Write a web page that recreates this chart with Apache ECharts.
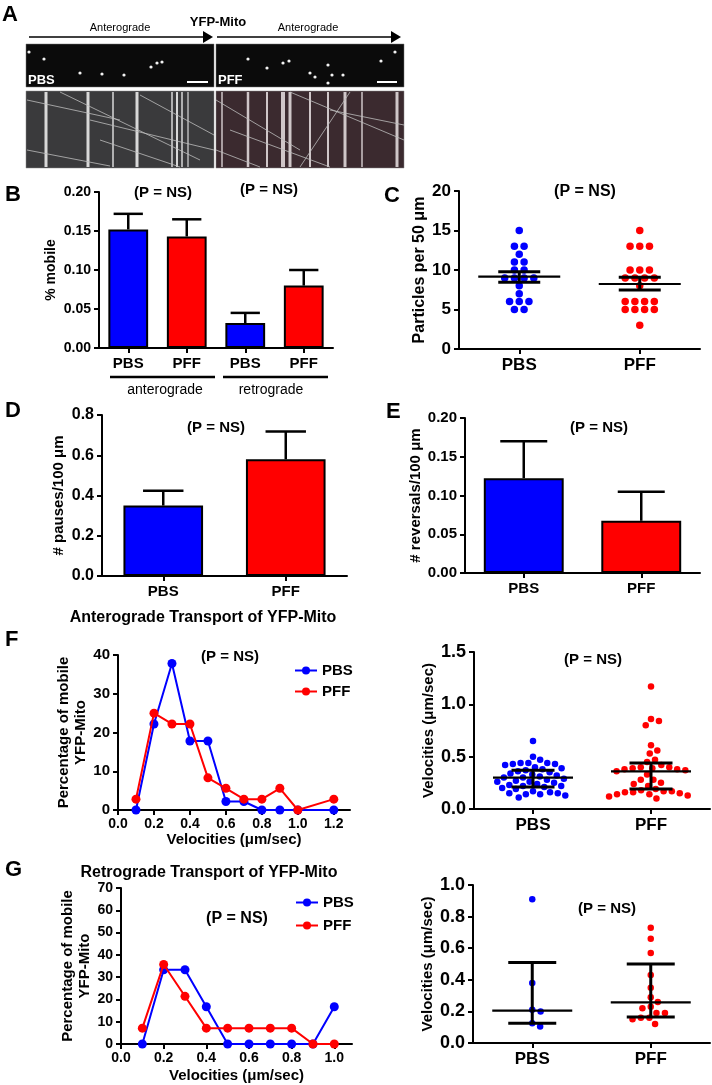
<!DOCTYPE html>
<html><head><meta charset="utf-8">
<script src="https://cdn.jsdelivr.net/npm/echarts@6/dist/echarts.min.js"></script>
<style>html,body{margin:0;padding:0;background:#fff}#c{width:712px;height:1085px}</style>
</head><body><div id="c"></div>
<script>
// ---------------- DATA ----------------
const mobileCats = ['PBS', 'PFF', 'PBS', 'PFF'];
const mobileMean = [0.152, 0.143, 0.032, 0.080];
const mobileUpper = [0.172, 0.165, 0.045, 0.100];

const groupCats = ['PBS', 'PFF'];
const particlesPBS = [15, 13, 13, 12, 11, 11, 10, 10, 9, 9, 9, 9, 8, 7, 6, 6, 6, 5, 5];
const particlesPFF = [15, 13, 13, 13, 10, 10, 10, 9, 9, 9, 9, 8, 6, 6, 6, 6, 5, 5, 5, 5, 3];
const particlesMean = [9.16, 8.23];
const particlesLow = [8.44, 7.47];
const particlesHigh = [9.78, 9.08];

const pausesMean = [0.35, 0.58];
const pausesUpper = [0.423, 0.718];
const reversalsMean = [0.1224, 0.0674];
const reversalsUpper = [0.170, 0.105];

const antVel = [0.1, 0.2, 0.3, 0.4, 0.5, 0.6, 0.7, 0.8, 0.9, 1.0, 1.2];
const antPctPBS = [0, 22.2, 37.8, 17.8, 17.8, 2.2, 2.2, 0, 0, 0, 0];
const antPctPFF = [2.8, 25.0, 22.2, 22.2, 8.3, 5.6, 2.8, 2.8, 5.6, 0, 2.8];

const antSpeedPBS = [0.65, 0.50, 0.47, 0.44, 0.44, 0.44, 0.43, 0.43, 0.42, 0.40, 0.39, 0.38, 0.37, 0.36, 0.35, 0.34, 0.33, 0.32, 0.31, 0.30, 0.30, 0.29, 0.28, 0.27, 0.26, 0.26, 0.25, 0.24, 0.23, 0.22, 0.22, 0.21, 0.20, 0.19, 0.17, 0.16, 0.15, 0.15, 0.14, 0.14, 0.13, 0.11];
const antSpeedPFF = [1.17, 0.86, 0.84, 0.80, 0.61, 0.56, 0.53, 0.47, 0.45, 0.42, 0.40, 0.40, 0.39, 0.39, 0.38, 0.38, 0.37, 0.36, 0.33, 0.28, 0.28, 0.25, 0.24, 0.22, 0.19, 0.18, 0.17, 0.17, 0.16, 0.16, 0.15, 0.14, 0.14, 0.13, 0.12, 0.10];
const antMedian = [0.30, 0.36];
const antQ1 = [0.21, 0.19];
const antQ3 = [0.37, 0.44];

const retVel = [0.1, 0.2, 0.3, 0.4, 0.5, 0.6, 0.7, 0.8, 0.9, 1.0];
const retPctPBS = [0, 33.3, 33.3, 16.7, 0, 0, 0, 0, 0, 16.7];
const retPctPFF = [7.1, 35.7, 21.4, 7.1, 7.1, 7.1, 7.1, 7.1, 0, 0];

const retSpeedPBS = [0.91, 0.38, 0.21, 0.20, 0.125, 0.105];
const retSpeedPFF = [0.73, 0.66, 0.57, 0.43, 0.35, 0.29, 0.26, 0.23, 0.22, 0.19, 0.19, 0.16, 0.16, 0.15, 0.12];
const retMedian = [0.205, 0.257];
const retQ1 = [0.125, 0.165];
const retQ3 = [0.51, 0.50];

// ---------------- STYLE / LAYOUT ----------------
const FF = "'Liberation Sans', Arial, Helvetica, sans-serif";
const BLUE = '#0000ff', RED = '#ff0000';
const grids = [
  {left: 99, top: 192, width: 234, height: 156},   // B
  {left: 459, top: 191, width: 241, height: 158},  // C
  {left: 102, top: 415, width: 245, height: 161},  // D
  {left: 465, top: 418, width: 235, height: 155},  // E
  {left: 118, top: 655, width: 232, height: 155},  // F left
  {left: 474, top: 652, width: 236, height: 157},  // F right
  {left: 121, top: 888, width: 231, height: 156},  // G left
  {left: 473, top: 885, width: 237, height: 158}   // G right
];

const axLine = {show: true, lineStyle: {color: '#000', width: 2}};
const axTick = {show: true, length: 5, lineStyle: {color: '#000', width: 2}};

function yAx(g, min, max, interval, fs, dec, name, gap, nfs) {
  return {
    type: 'value', gridIndex: g, min: min, max: max, interval: interval,
    axisLine: axLine, axisTick: axTick, splitLine: {show: false},
    axisLabel: {color: '#000', fontWeight: 'bold', fontSize: fs, fontFamily: FF, margin: 8,
      formatter: v => v.toFixed(dec)},
    name: name, nameLocation: 'middle', nameGap: gap,
    nameTextStyle: {color: '#000', fontWeight: 'bold', fontSize: nfs, fontFamily: FF, lineHeight: nfs + 2}
  };
}
function catAx(g, cats, fs) {
  return {
    type: 'category', gridIndex: g, data: cats,
    axisLine: axLine, axisTick: Object.assign({alignWithLabel: true, interval: 0}, axTick),
    axisLabel: {color: '#000', fontWeight: 'bold', fontSize: fs, fontFamily: FF, margin: 8, interval: 0}
  };
}
function hiddenAx(g) { return {type: 'value', gridIndex: g, min: 0, max: 2, show: false}; }
function valXAx(g, max, name, gap) {
  return {
    type: 'value', gridIndex: g, min: 0, max: max, interval: 0.2,
    axisLine: axLine, axisTick: axTick, splitLine: {show: false},
    axisLabel: {color: '#000', fontWeight: 'bold', fontSize: 14, fontFamily: FF, margin: 7,
      showMaxLabel: false, formatter: v => v.toFixed(1)},
    name: name, nameLocation: 'middle', nameGap: gap,
    nameTextStyle: {color: '#000', fontWeight: 'bold', fontSize: 15, fontFamily: FF}
  };
}

// beeswarm layout (pixel space) computed from the values
function swarm(values, pxPerUnit, d) {
  const order = values.map((v, i) => i).sort((a, b) => values[b] - values[a]);
  const placed = [], out = new Array(values.length);
  order.forEach(i => {
    const y = values[i] * pxPerUnit;
    const cands = [0];
    placed.forEach(p => {
      const dy = Math.abs(p.y - y);
      if (dy < d) { const dx = Math.sqrt(d * d - dy * dy); cands.push(p.x + dx, p.x - dx); }
    });
    cands.sort((a, b) => Math.abs(a) - Math.abs(b) || b - a);
    for (const c of cands) {
      if (placed.every(p => (p.x - c) * (p.x - c) + (p.y - y) * (p.y - y) >= d * d - 0.01)) {
        out[i] = c; placed.push({x: c, y: y}); break;
      }
    }
  });
  return out;
}
function swarmData(values, center, grid, yMax, d) {
  const pxPerUnit = grid.height / yMax;
  const unitPx = grid.width / 2;
  const off = swarm(values, pxPerUnit, d);
  return values.map((v, i) => [center + off[i] / unitPx, v]);
}
// row layout: equal values spread symmetrically in one row
function rowData(values, center, grid, s) {
  const unitPx = grid.width / 2;
  const counts = {}, seen = {};
  values.forEach(v => counts[v] = (counts[v] || 0) + 1);
  return values.map(v => {
    const k = seen[v] = (seen[v] || 0) + 1;
    const off = (k - 1 - (counts[v] - 1) / 2) * s;
    return [center + off / unitPx, v];
  });
}

function errSeries(xi, yi, means, uppers, capFrac) {
  return {
    type: 'custom', xAxisIndex: xi, yAxisIndex: yi, z: 5,
    data: means.map((m, i) => [i, m, uppers[i]]),
    renderItem: function (params, api) {
      const p0 = api.coord([api.value(0), api.value(1)]);
      const p1 = api.coord([api.value(0), api.value(2)]);
      const w = api.size([1, 0])[0] * capFrac;
      return {type: 'group', children: [
        {type: 'line', shape: {x1: p0[0], y1: p0[1], x2: p1[0], y2: p1[1]}, style: {stroke: '#000', lineWidth: 2.5}},
        {type: 'line', shape: {x1: p1[0] - w / 2, y1: p1[1], x2: p1[0] + w / 2, y2: p1[1]}, style: {stroke: '#000', lineWidth: 2.5}}
      ]};
    }
  };
}
function sumSeries(xi, yi, mid, lo, hi, longW, capW) {
  return {
    type: 'custom', xAxisIndex: xi, yAxisIndex: yi, z: 6,
    data: mid.map((m, i) => [0.5 + i, m, lo[i], hi[i]]),
    renderItem: function (params, api) {
      const x = api.value(0);
      const pm = api.coord([x, api.value(1)]), pl = api.coord([x, api.value(2)]), ph = api.coord([x, api.value(3)]);
      const L = (x1, y1, x2, y2, w) => ({type: 'line', shape: {x1, y1, x2, y2}, style: {stroke: '#000', lineWidth: w}});
      return {type: 'group', children: [
        L(pm[0] - longW / 2, pm[1], pm[0] + longW / 2, pm[1], 2.2),
        L(pl[0], pl[1], ph[0], ph[1], 3),
        L(pl[0] - capW / 2, pl[1], pl[0] + capW / 2, pl[1], 3),
        L(ph[0] - capW / 2, ph[1], ph[0] + capW / 2, ph[1], 3)
      ]};
    }
  };
}
function barSeries(xi, yi, vals, colors, bw) {
  return {
    type: 'bar', xAxisIndex: xi, yAxisIndex: yi, barWidth: bw,
    data: vals.map((v, i) => ({value: v, itemStyle: {color: colors[i], borderColor: '#000', borderWidth: 2}}))
  };
}
function lineSeries(name, xi, yi, xs, ys, color, z) {
  return {
    name: name, type: 'line', xAxisIndex: xi, yAxisIndex: yi, z: z,
    data: xs.map((x, i) => [x, ys[i]]),
    symbol: 'circle', symbolSize: 9, lineStyle: {color: color, width: 2},
    itemStyle: {color: color}
  };
}
function scat(xi, yi, data, color, size) {
  return {type: 'scatter', xAxisIndex: xi, yAxisIndex: yi, data: data, symbolSize: size,
    itemStyle: {color: color, opacity: 1}, z: 3};
}

// ---------------- GRAPHICS (labels, panel A picture) ----------------
function T(x, y, text, size, opt) {
  opt = opt || {};
  return {type: 'text', x: x, y: y, z: 50, style: {text: text, fill: opt.fill || '#000',
    font: (opt.weight || 'bold') + ' ' + size + 'px ' + (opt.family || FF),
    textAlign: opt.align || 'center', textVerticalAlign: 'middle'}};
}
function Ln(x1, y1, x2, y2, w, c) {
  return {type: 'line', z: 40, shape: {x1, y1, x2, y2}, style: {stroke: c || '#000', lineWidth: w}};
}
const g = [];
// Panel A
g.push(T(2, 15, 'A', 22, {align: 'left', family: "'Liberation Sans Narrow', " + FF}));
g.push(T(218, 22, 'YFP-Mito', 13));
g.push(T(120, 28, 'Anterograde', 11, {weight: 'normal'}));
g.push(T(308, 28, 'Anterograde', 11, {weight: 'normal'}));
g.push(Ln(29, 37, 205, 37, 1.5));
g.push({type: 'polygon', z: 40, shape: {points: [[203, 31], [213, 37], [203, 43]]}, style: {fill: '#000'}});
g.push(Ln(217, 37, 392, 37, 1.5));
g.push({type: 'polygon', z: 40, shape: {points: [[391, 31], [401, 37], [391, 43]]}, style: {fill: '#000'}});
// microscopy images (illustrative)
g.push({type: 'rect', z: 30, shape: {x: 26, y: 44, width: 188, height: 43}, style: {fill: '#0b0b0b', stroke: '#777', lineWidth: 0.5}});
g.push({type: 'rect', z: 30, shape: {x: 216, y: 44, width: 188, height: 43}, style: {fill: '#0b0b0b', stroke: '#777', lineWidth: 0.5}});
g.push({type: 'rect', z: 30, shape: {x: 26, y: 91, width: 188, height: 77}, style: {fill: '#3a3a3c', stroke: '#888', lineWidth: 0.5}});
g.push({type: 'rect', z: 30, shape: {x: 216, y: 91, width: 188, height: 77}, style: {fill: '#3b2a2f', stroke: '#888', lineWidth: 0.5}});
[[44, 59], [80, 73], [102, 74], [124, 75], [151, 67], [157, 63], [162, 62], [29, 52],
 [248, 59], [267, 68], [283, 63], [289, 61], [328, 65], [310, 73], [315, 77], [332, 75], [343, 75], [381, 61], [395, 52], [328, 83]]
  .forEach(p => g.push({type: 'circle', z: 31, shape: {cx: p[0], cy: p[1], r: 1.6}, style: {fill: '#f2f2f2'}}));
g.push(Ln(187, 82, 208, 82, 2, '#fff'));
g.push(Ln(377, 82, 397, 82, 2, '#fff'));
g.push(T(28, 80, 'PBS', 13, {align: 'left', fill: '#fff'}));
g.push(T(218, 80, 'PFF', 13, {align: 'left', fill: '#fff'}));
[[46, 3], [88, 3], [113, 1.5], [137, 3], [172, 1.5], [177, 2], [182, 1.5], [188, 1.2]]
  .forEach(p => g.push(Ln(p[0], 92, p[0], 167, p[1], '#d8d8d8')));
[[222, 1.5], [248, 2.5], [267, 2], [283, 4], [290, 3], [310, 2], [328, 2], [345, 3], [362, 1.5], [397, 3]]
  .forEach(p => g.push(Ln(p[0], 92, p[0], 167, p[1], '#cfc6c8')));
[[27, 100, 120, 120], [60, 92, 200, 160], [90, 120, 214, 150], [27, 150, 110, 166], [140, 95, 214, 135], [100, 140, 180, 167],
 [216, 100, 300, 150], [230, 130, 330, 167], [290, 92, 404, 140], [330, 110, 404, 125], [216, 150, 260, 167], [350, 92, 300, 167]]
  .forEach(s => g.push(Ln(s[0], s[1], s[2], s[3], 0.8, '#bdbdbd')));
// Panel letters
g.push(T(5, 195, 'B', 22, {align: 'left'}));
g.push(T(384, 196, 'C', 22, {align: 'left'}));
g.push(T(5, 411, 'D', 22, {align: 'left'}));
g.push(T(386, 412, 'E', 22, {align: 'left'}));
g.push(T(5, 640, 'F', 22, {align: 'left'}));
g.push(T(5, 870, 'G', 22, {align: 'left'}));
// P = NS
g.push(T(163, 193, '(P = NS)', 15));
g.push(T(269, 190, '(P = NS)', 15));
g.push(T(585, 192, '(P = NS)', 16));
g.push(T(216, 428, '(P = NS)', 15));
g.push(T(599, 428, '(P = NS)', 15));
g.push(T(230, 657, '(P = NS)', 15));
g.push(T(593, 660, '(P = NS)', 15));
g.push(T(237, 919, '(P = NS)', 16));
g.push(T(607, 909, '(P = NS)', 15));
// B group lines
g.push(Ln(110, 377, 215, 377, 2.5));
g.push(Ln(223, 377, 328, 377, 2.5));
g.push(T(165, 390, 'anterograde', 14, {weight: 'normal'}));
g.push(T(271, 390, 'retrograde', 14, {weight: 'normal'}));
// titles
g.push(T(203, 618, 'Anterograde Transport of YFP-Mito', 16));
g.push(T(209, 873, 'Retrograde Transport of YFP-Mito', 16));

// ---------------- OPTION ----------------
const option = {
  backgroundColor: '#fff',
  animation: false,
  grid: grids,
  xAxis: [
    catAx(0, mobileCats, 15),          // 0 B
    catAx(1, groupCats, 17),           // 1 C
    hiddenAx(1),                       // 2 C hidden
    catAx(2, groupCats, 15),           // 3 D
    catAx(3, groupCats, 15),           // 4 E
    valXAx(4, 1.29, 'Velocities (μm/sec)', 22), // 5 F left
    catAx(5, groupCats, 17),           // 6 F right
    hiddenAx(5),                       // 7
    valXAx(6, 1.083, 'Velocities (μm/sec)', 24), // 8 G left
    catAx(7, groupCats, 17),           // 9 G right
    hiddenAx(7)                        // 10
  ],
  yAxis: [
    yAx(0, 0, 0.2, 0.05, 14, 2, '% mobile', 40, 14),
    yAx(1, 0, 20, 5, 17, 0, 'Particles per 50 μm', 30, 16),
    yAx(2, 0, 0.8, 0.2, 16, 1, '# pauses/100 μm', 33, 15),
    yAx(3, 0, 0.2, 0.05, 15, 2, '# reversals/100 μm', 37, 15),
    yAx(4, 0, 40, 10, 15, 0, 'Percentage of mobile\nYFP-Mito', 22, 15),
    yAx(5, 0, 1.5, 0.5, 18, 1, 'Velocities (μm/sec)', 33, 15),
    yAx(6, 0, 70, 10, 14, 0, 'Percentage of mobile\nYFP-Mito', 25, 15),
    yAx(7, 0, 1.0, 0.2, 18, 1, 'Velocities (μm/sec)', 33, 15)
  ],
  legend: [
    {left: 289, top: 658, orient: 'vertical', itemWidth: 22, itemHeight: 10, itemGap: 6, selectedMode: false,
      data: ['PBS', 'PFF'], textStyle: {color: '#000', fontWeight: 'bold', fontSize: 15, fontFamily: FF}},
    {left: 290, top: 890, orient: 'vertical', itemWidth: 22, itemHeight: 10, itemGap: 8, selectedMode: false,
      data: ['PBS', 'PFF'], textStyle: {color: '#000', fontWeight: 'bold', fontSize: 15, fontFamily: FF}}
  ],
  series: [
    barSeries(0, 0, mobileMean, [BLUE, RED, BLUE, RED], '68%'),
    errSeries(0, 0, mobileMean, mobileUpper, 0.5),
    scat(2, 1, rowData(particlesPBS, 0.5, grids[1], 9.7), BLUE, 7.5),
    scat(2, 1, rowData(particlesPFF, 1.5, grids[1], 9.7), RED, 7.5),
    sumSeries(2, 1, particlesMean, particlesLow, particlesHigh, 82, 42),
    barSeries(3, 2, pausesMean, [BLUE, RED], '65%'),
    errSeries(3, 2, pausesMean, pausesUpper, 0.33),
    barSeries(4, 3, reversalsMean, [BLUE, RED], '68%'),
    errSeries(4, 3, reversalsMean, reversalsUpper, 0.4),
    lineSeries('PBS', 5, 4, antVel, antPctPBS, BLUE, 3),
    lineSeries('PFF', 5, 4, antVel, antPctPFF, RED, 4),
    scat(7, 5, swarmData(antSpeedPBS, 0.5, grids[5], 1.5, 7.8), BLUE, 6.5),
    scat(7, 5, swarmData(antSpeedPFF, 1.5, grids[5], 1.5, 8.2), RED, 6.5),
    sumSeries(7, 5, antMedian, antQ1, antQ3, 80, 43),
    lineSeries('PBS', 8, 6, retVel, retPctPBS, BLUE, 3),
    lineSeries('PFF', 8, 6, retVel, retPctPFF, RED, 4),
    scat(10, 7, swarmData(retSpeedPBS, 0.5, grids[7], 1.0, 8.5), BLUE, 6.5),
    scat(10, 7, swarmData(retSpeedPFF, 1.5, grids[7], 1.0, 8.5), RED, 6.5),
    sumSeries(10, 7, retMedian, retQ1, retQ3, 80, 48)
  ],
  graphic: g
};
const chart = echarts.init(document.getElementById('c'), null, {renderer: 'canvas'});
chart.setOption(option);
</script>
</body></html>
